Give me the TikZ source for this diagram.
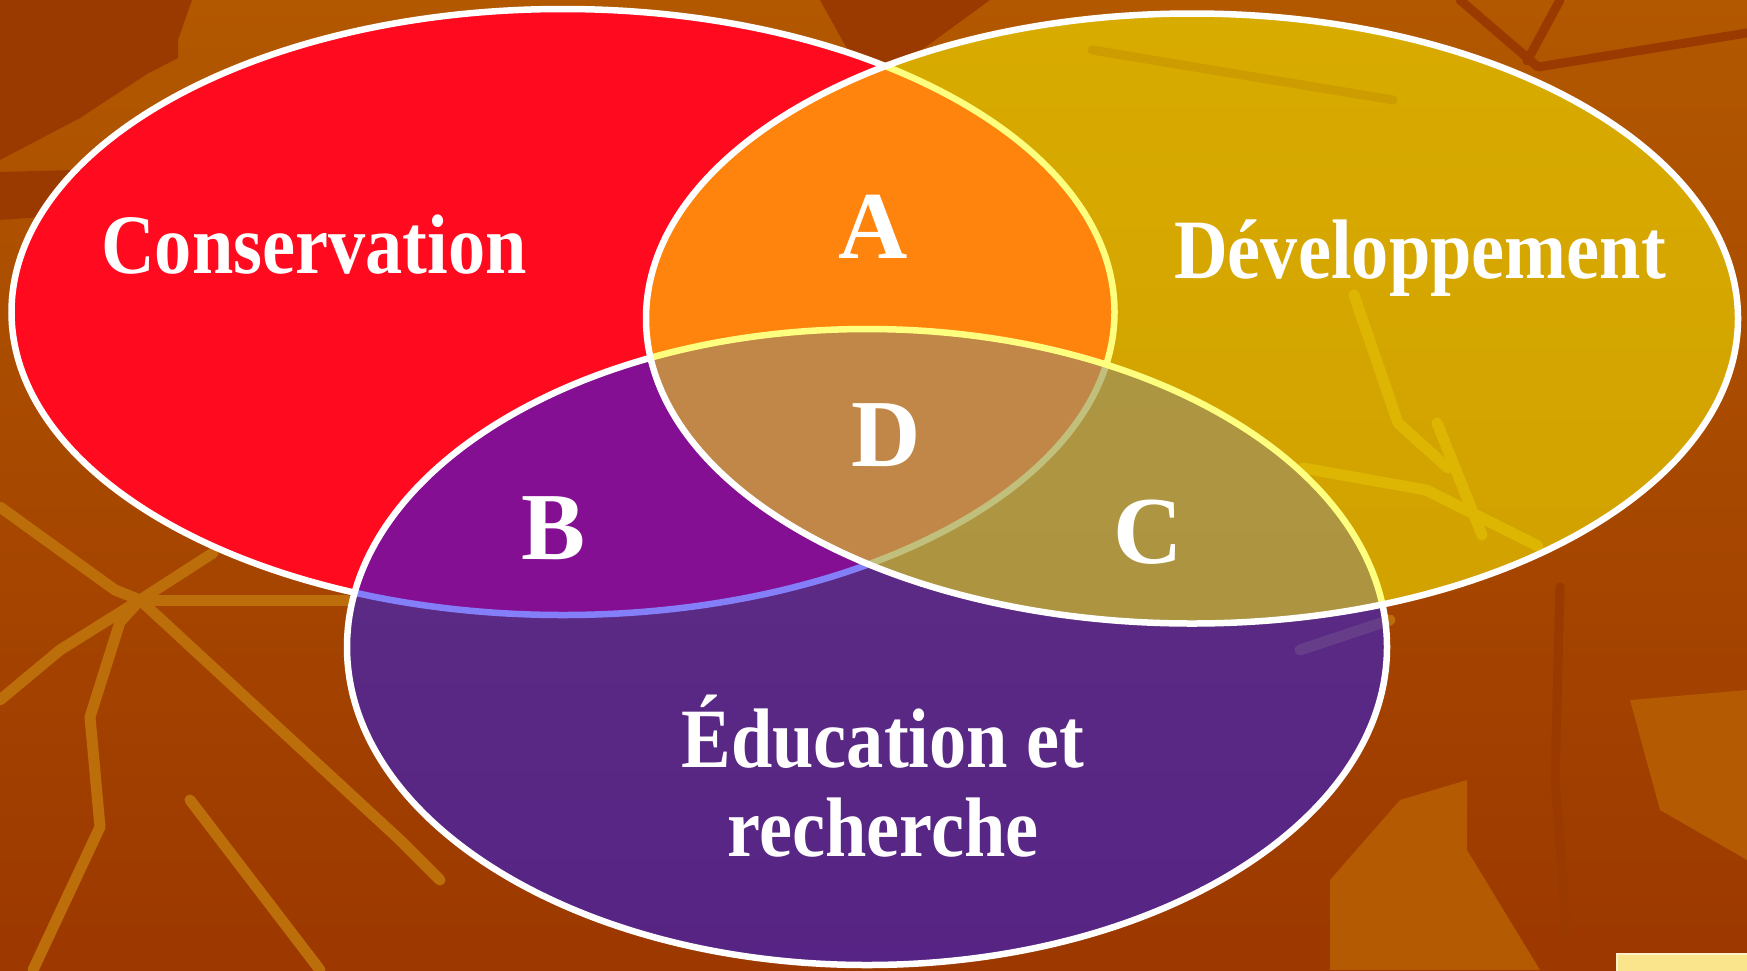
\documentclass[tikz,border=0pt]{standalone}
\usepackage{fontspec}
\usetikzlibrary{shapes.geometric}
\newfontfamily\venlabel[FakeStretch=0.88]{Liberation Serif}
\newfontfamily\venzone{Liberation Serif}
\definecolor{bgtop}{RGB}{178,88,0}
\definecolor{bgbot}{RGB}{156,56,0}
\definecolor{bgdark}{RGB}{154,58,0}
\definecolor{bglight}{RGB}{180,90,2}
\definecolor{veinlight}{RGB}{188,110,10}
\definecolor{consred}{RGB}{255,10,30}
\definecolor{devyellow}{RGB}{255,255,0}
\definecolor{edublue}{RGB}{28,20,245}
\definecolor{notecream}{RGB}{250,228,140}
\begin{document}
\begin{tikzpicture}[x=1pt,y=-1pt,
  set/.style={ellipse,draw=white,line width=6.5pt,inner sep=0pt},
  title/.style={text=white,align=center,anchor=base,font=\venlabel\bfseries\fontsize{84.5}{89}\selectfont},
  zone/.style={text=white,anchor=base,font=\venzone\bfseries\fontsize{96}{100}\selectfont},
  vein/.style={veinlight,line width=11pt,line cap=round,line join=round},
  crack/.style={bgdark,line width=9pt,line cap=round,line join=round}]
\useasboundingbox (0,0) rectangle (1747,970);
\shade[top color=bgtop,bottom color=bgbot] (0,0) rectangle (1747,970);
\fill[bgdark] (0,0) -- (192,0) -- (178,40) -- (178,58) -- (147,74) -- (80,118) -- (0,160) -- cycle;
\fill[bgdark] (0,172) -- (75,170) -- (70,215) -- (0,220) -- cycle;
\fill[bgdark] (820,0) -- (990,0) -- (905,62) -- (860,72) -- cycle;
\fill[bglight] (1330,880) -- (1400,800) -- (1467,780) -- (1467,850) -- (1540,970) -- (1330,970) -- cycle;
\fill[bglight] (1630,700) -- (1747,690) -- (1747,860) -- (1660,810) -- cycle;
\draw[crack] (1460,0) -- (1538,67) -- (1747,33);
\draw[crack] (1560,0) -- (1527,61);
\draw[crack] (1092,50) -- (1393,100);
\draw[crack] (1560,587) -- (1555,780) -- (1567,935);
\draw[vein] (0,507) -- (115,590) -- (140,600);
\draw[vein] (140,600) -- (347,600);
\draw[vein] (140,600) -- (400,840) -- (440,880);
\draw[vein] (140,600) -- (120,622) -- (90,717) -- (100,827) -- (33,970);
\draw[vein] (140,600) -- (60,650) -- (0,700);
\draw[vein] (140,600) -- (213,553);
\draw[vein] (190,800) -- (320,970);
\draw[vein] (1354,295) -- (1398,423) -- (1448,468);
\draw[vein] (1303,468) -- (1426,490) -- (1538,546);
\draw[vein] (1437,423) -- (1482,535);
\draw[vein] (1300,650) -- (1390,620);
\node[set,fill=consred,minimum width=1103pt,minimum height=606pt] (cons) at (563,312) {};
\node[set,fill=edublue,fill opacity=0.54,minimum width=1040pt,minimum height=636pt] (edu) at (867,647) {};
\node[set,fill=devyellow,fill opacity=0.5,minimum width=1092pt,minimum height=610pt] (dev) at (1192,318.5) {};
\node[title] (consname) at (314,273) {Conservation};
\node[title] (devname) at (1420,278) {Développement};
\node[title] (eduname) at (883,856) {Éducation et\\recherche};
\node[zone] (zoneA) at (873,258) {A};
\node[zone] (zoneD) at (886,466) {D};
\node[zone] (zoneB) at (554,559) {B};
\node[zone] (zoneC) at (1148,563) {C};
\fill[notecream,draw=notecream!50!white,line width=2pt] (1617,954) rectangle (1750,973);
\end{tikzpicture}
\end{document}
